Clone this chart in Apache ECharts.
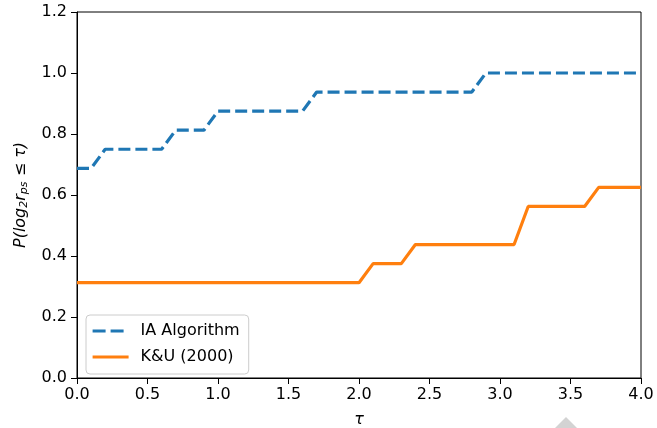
<!DOCTYPE html>
<html><head><meta charset="utf-8">
<script src="https://cdn.jsdelivr.net/npm/echarts@6/dist/echarts.min.js"></script>
<style>html,body{margin:0;padding:0;background:#fff}#c{width:657px;height:428px}</style>
</head><body><div id="c"></div>
<script>
const seriesNames = ['IA Algorithm', 'K&U (2000)'];
const iaTau = [0, 0.1, 0.2, 0.6, 0.7, 0.9, 1.0, 1.6, 1.7, 2.8, 2.9, 4.0];
const iaP   = [0.6875, 0.6875, 0.75, 0.75, 0.8125, 0.8125, 0.875, 0.875, 0.9375, 0.9375, 1.0, 1.0];
const kuTau = [0, 2.0, 2.1, 2.3, 2.4, 3.1, 3.2, 3.6, 3.7, 4.0];
const kuP   = [0.3125, 0.3125, 0.375, 0.375, 0.4375, 0.4375, 0.5625, 0.5625, 0.625, 0.625];
const xTicks = [0, 0.5, 1.0, 1.5, 2.0, 2.5, 3.0, 3.5, 4.0];
const yTicks = [0, 0.2, 0.4, 0.6, 0.8, 1.0, 1.2];

const zip = (a, b) => a.map((v, i) => [v, b[i]]);
const font = 'DejaVu Sans';
const chart = echarts.init(document.getElementById('c'), null, {renderer: 'canvas'});
const axisCommon = {
  axisLine: {show: true, onZero: false, lineStyle: {color: '#000', width: 1}},
  axisTick: {show: true, inside: false, length: 6, lineStyle: {color: '#000', width: 1}},
  splitLine: {show: false},
  axisLabel: {color: '#000', fontFamily: font, fontSize: 16},
};
chart.setOption({
  animation: false,
  grid: {left: 77, right: 16, top: 12, bottom: 50, show: true, borderColor: '#000', borderWidth: 1,
         backgroundColor: 'transparent', containLabel: false, outerBoundsMode: 'none'},
  xAxis: Object.assign({}, axisCommon, {
    type: 'value', min: 0, max: 4, interval: 0.5,
    axisLabel: Object.assign({}, axisCommon.axisLabel, {margin: 9, formatter: v => v.toFixed(1)}),
    name: 'τ', nameLocation: 'middle', nameGap: 34,
    nameTextStyle: {fontFamily: font, fontSize: 16, color: '#000', fontStyle: 'italic'}
  }),
  yAxis: Object.assign({}, axisCommon, {
    type: 'value', min: 0, max: 1.2, interval: 0.2,
    axisLabel: Object.assign({}, axisCommon.axisLabel, {margin: 10, formatter: v => v.toFixed(1)}),
    name: '{a|P(log}{s|2}{a|r}{s|ps}{a| ≤ τ)}', nameLocation: 'middle', nameGap: 46, nameRotate: 90,
    nameTextStyle: {
      color: '#000',
      rich: {
        a: {fontFamily: font, fontSize: 16, fontStyle: 'italic', color: '#000', lineHeight: 20},
        s: {fontFamily: font, fontSize: 11, fontStyle: 'italic', color: '#000', lineHeight: 20, padding: [7, 0, 0, 0]}
      }
    }
  }),
  legend: {
    orient: 'vertical', left: 86, top: 315,
    data: [
      {name: seriesNames[0], lineStyle: {width: 3.2, type: [13, 5]}},
      {name: seriesNames[1], lineStyle: {width: 3.2}}
    ],
    itemWidth: 36, itemHeight: 14, itemGap: 10,
    padding: [8, 9, 9, 5],
    borderColor: '#cccccc', borderWidth: 1, borderRadius: 4, backgroundColor: 'rgba(255,255,255,0.8)',
    itemStyle: {opacity: 0},
    textStyle: {fontFamily: font, fontSize: 16, color: '#000', padding: [0, 0, 0, 7]}
  },
  graphic: [{
    type: 'polygon', silent: true,
    shape: {points: [[566, 417], [577, 428], [566, 439], [555, 428]]},
    style: {fill: '#d3d3d3'}
  }],
  series: [
    {name: seriesNames[0], type: 'line', data: zip(iaTau, iaP), symbol: 'none', z: 3,
     lineStyle: {color: '#1f77b4', width: 3.2, type: [12, 5], cap: 'butt'}, itemStyle: {color: '#1f77b4'}},
    {name: seriesNames[1], type: 'line', data: zip(kuTau, kuP), symbol: 'none', z: 3,
     lineStyle: {color: '#ff7f0e', width: 3.2, type: 'solid'}, itemStyle: {color: '#ff7f0e'}}
  ]
});
</script></body></html>
